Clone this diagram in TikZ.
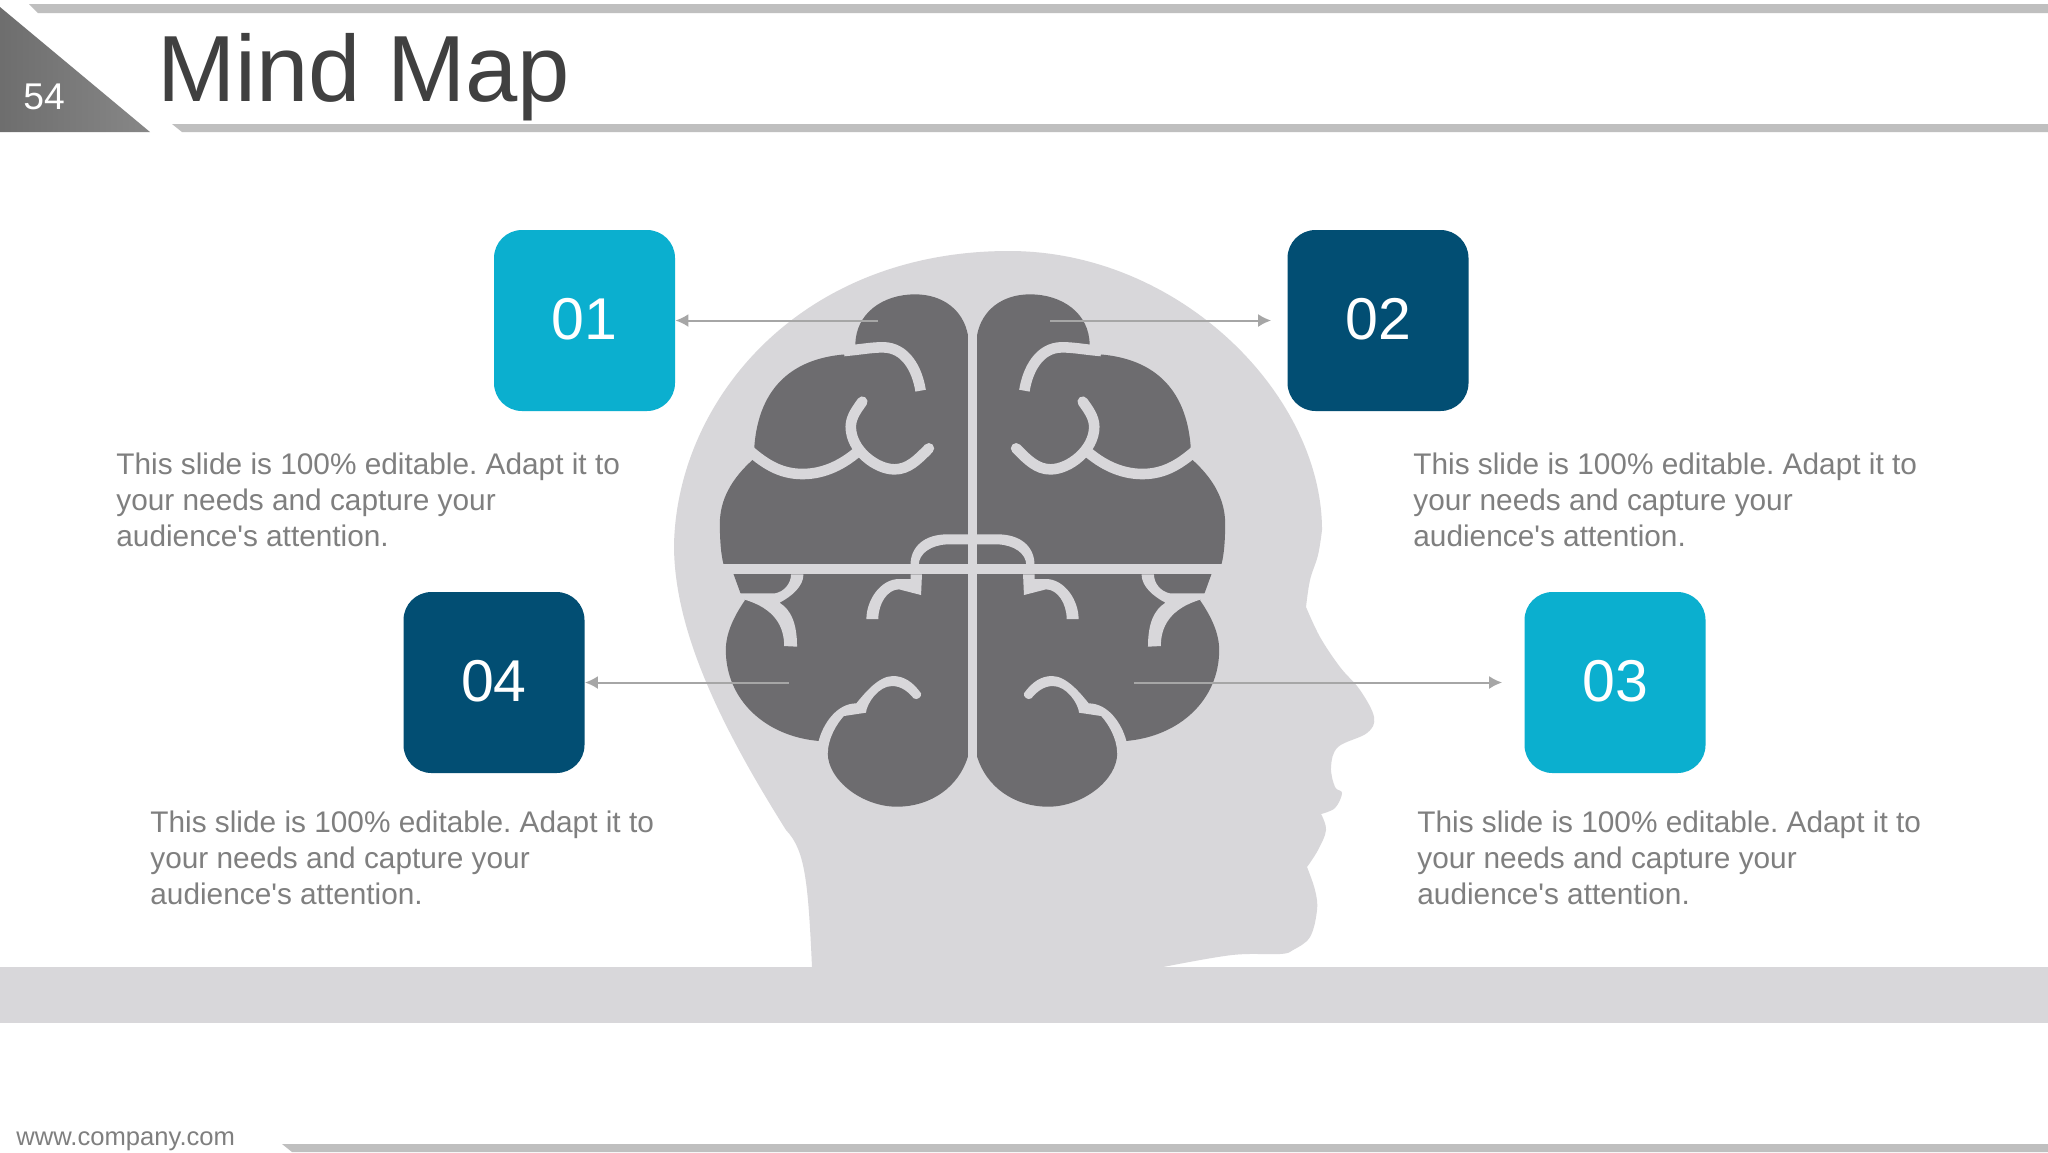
\documentclass[tikz,border=0pt]{standalone}
\usepackage{fontspec}
\setmainfont{Liberation Sans}
\newfontfamily\plainsans{Liberation Sans}
\usetikzlibrary{arrows.meta}
\definecolor{headc}{HTML}{D8D7DA}
\definecolor{brainc}{HTML}{6D6C6F}
\definecolor{barc}{HTML}{BFBFBF}
\definecolor{cyanb}{HTML}{0BAFCF}
\definecolor{navyb}{HTML}{024E73}
\definecolor{bodyc}{HTML}{7F7F7F}
\definecolor{titlec}{HTML}{404040}
\definecolor{arrowc}{HTML}{A6A6A6}
\tikzset{
  numbox/.style={rounded corners=14pt,minimum width=90.5pt,minimum height=90.5pt,inner sep=0pt,text depth=2pt,text=white,font=\fontsize{29.5}{36}\selectfont},
  bodytext/.style={anchor=north west,align=left,inner sep=0pt,text=bodyc,font=\plainsans\frenchspacing\fontsize{14.9}{18}\selectfont},
  conn/.style={draw=arrowc,line width=1pt,-{Latex[length=6.5pt,width=6.5pt]}},
  groove/.style={draw=headc,line width=5.3pt},
}
\newcommand{\brainhalf}{%
  \fill[brainc] (690,315) .. controls (700,240) and (745,193) .. (805,193)
    .. controls (875,193) and (935,250) .. (935,345) -- (945,372)
    .. controls (1070,380) and (1145,470) .. (1155,650) -- (1155,685)
    .. controls (1205,745) and (1230,810) .. (1230,880)
    .. controls (1230,930) and (1228,970) .. (1222,1003) -- (1200,1033) -- (1185,1090) -- (1175,1110)
    .. controls (1200,1160) and (1217,1210) .. (1217,1260)
    .. controls (1217,1410) and (1130,1520) .. (1013,1533) -- (995,1570)
    .. controls (995,1650) and (920,1730) .. (845,1730)
    .. controls (770,1730) and (710,1670) .. (690,1580) -- cycle;
  \fill[headc] (680,1003) rectangle (1250,1033);
  \fill[headc] (680,913) -- (735,913) .. controls (785,913) and (815,950) .. (815,1005) -- (797,1005)
    .. controls (797,970) and (770,945) .. (735,943) -- (680,943) -- cycle;
  \draw[groove] (793,482) .. controls (800,420) and (825,352) .. (875,352) .. controls (900,352) and (920,358) .. (960,363);
  \draw[groove,line cap=round] (775,655) .. controls (800,690) and (820,718) .. (850,718)
    .. controls (890,718) and (945,660) .. (945,590) .. controls (945,560) and (930,535) .. (920,515);
  \draw[groove] (930,665) .. controls (960,700) and (1000,732) .. (1050,732) .. controls (1100,732) and (1135,700) .. (1175,650);
  \fill[headc] (790,1033) -- (792,1095) -- (840,1078) .. controls (865,1078) and (885,1120) .. (885,1167) -- (911,1167)
    .. controls (911,1110) and (880,1047) .. (840,1047) -- (815,1047) -- (815,1033) -- cycle;
  \fill[headc] (1048,1033) .. controls (1048,1070) and (1075,1100) .. (1100,1118)
    .. controls (1075,1140) and (1062,1180) .. (1062,1250) -- (1090,1248)
    .. controls (1090,1190) and (1110,1135) .. (1178,1108) -- (1190,1090) -- (1110,1090)
    .. controls (1090,1085) and (1075,1060) .. (1075,1033) -- cycle;
  \fill[headc] (792,1390) .. controls (810,1355) and (830,1338) .. (853,1338)
    .. controls (885,1338) and (915,1390) .. (933,1420)
    .. controls (975,1420) and (1005,1480) .. (1015,1533) -- (1015,1550) -- (995,1570)
    .. controls (995,1525) and (975,1480) .. (960,1458) -- (912,1448)
    .. controls (910,1420) and (885,1368) .. (855,1368)
    .. controls (835,1368) and (820,1385) .. (808,1405)
    .. controls (800,1412) and (790,1400) .. (792,1390) -- cycle;
}
\begin{document}
\begin{tikzpicture}[x=0.5pt,y=-0.5pt]
\useasboundingbox (0,0) rectangle (2048,1152);
\fill[white] (0,0) rectangle (2048,1152);
% header
\fill[barc] (29,4) -- (2048,4) -- (2048,13) -- (38,13) -- cycle;
\fill[barc] (172,124) -- (2048,124) -- (2048,132) -- (182,132) -- cycle;
\shade[left color=black!57,right color=black!47] (0,7) -- (150,132) -- (0,132) -- cycle;
\node[anchor=base west,inner sep=0pt,text=white,font=\fontsize{18.6}{22}\selectfont] (num) at (23,109) {54};
\node[anchor=base west,inner sep=0pt,text=titlec,font=\fontsize{47}{56}\selectfont] (title) at (157,101) {Mind Map};
% head and bar
\fill[headc] (0,967) rectangle (2048,1023);
\fill[headc] (812,967) .. controls (808,880) and (805,850) .. (786,830)
  .. controls (720,725) and (674,630) .. (674,545)
  .. controls (677,400) and (800,251) .. (1009,251)
  .. controls (1180,251) and (1322,395) .. (1322,530)
  -- plot[smooth,tension=0.6] coordinates {(1322,530) (1318,555) (1310,580) (1306,607)}
  -- plot[smooth,tension=0.6] coordinates {(1306,607) (1320,637) (1340,667) (1360,690) (1374,717) (1367,733) (1338,747) (1331,767) (1335,787) (1342,793) (1335,808) (1321,814)}
  -- plot[smooth,tension=0.6] coordinates {(1321,814) (1326,830) (1318,850) (1307,867)}
  -- plot[smooth,tension=0.6] coordinates {(1307,867) (1315,890) (1317,910) (1310,937) (1293,950) (1280,954) (1232,955) (1163,967)} -- cycle;
% brain
\begin{scope}[shift={(660.14,230)},x=0.22967pt,y=-0.16667pt]
  \brainhalf
\end{scope}
\begin{scope}[shift={(1284.86,230)},x=-0.22967pt,y=-0.16667pt]
  \brainhalf
\end{scope}
% boxes
\node[numbox,fill=cyanb] (b1) at (584.5,320.5) {01};
\node[numbox,fill=navyb] (b2) at (1378,320.5) {02};
\node[numbox,fill=cyanb] (b3) at (1615,682.5) {03};
\node[numbox,fill=navyb] (b4) at (494,682.5) {04};
% connectors
\coordinate (c1) at (878,320.5);
\coordinate (c2) at (1050,320.5);
\coordinate (c3) at (1134,682.5);
\coordinate (c4) at (789,682.5);
\draw[conn] (c1) -- (b1.east);
\draw[conn,shorten >=8pt] (c2) -- (b2.west);
\draw[conn,shorten >=11pt] (c3) -- (b3.west);
\draw[conn] (c4) -- (b4.east);
% texts
\node[bodytext] (t1) at (116,452) {This slide is 100\% editable. Adapt it to\\your needs and capture your\\audience's attention.};
\node[bodytext] (t2) at (1413,452) {This slide is 100\% editable. Adapt it to\\your needs and capture your\\audience's attention.};
\node[bodytext] (t3) at (1417,810) {This slide is 100\% editable. Adapt it to\\your needs and capture your\\audience's attention.};
\node[bodytext] (t4) at (150,810) {This slide is 100\% editable. Adapt it to\\your needs and capture your\\audience's attention.};
% footer
\node[anchor=base west,inner sep=0pt,text=bodyc,font=\fontsize{12.8}{15}\selectfont] (web) at (16,1145) {www.company.com};
\fill[barc] (282,1144) -- (2048,1144) -- (2048,1152) -- (292,1152) -- cycle;
\end{tikzpicture}
\end{document}
